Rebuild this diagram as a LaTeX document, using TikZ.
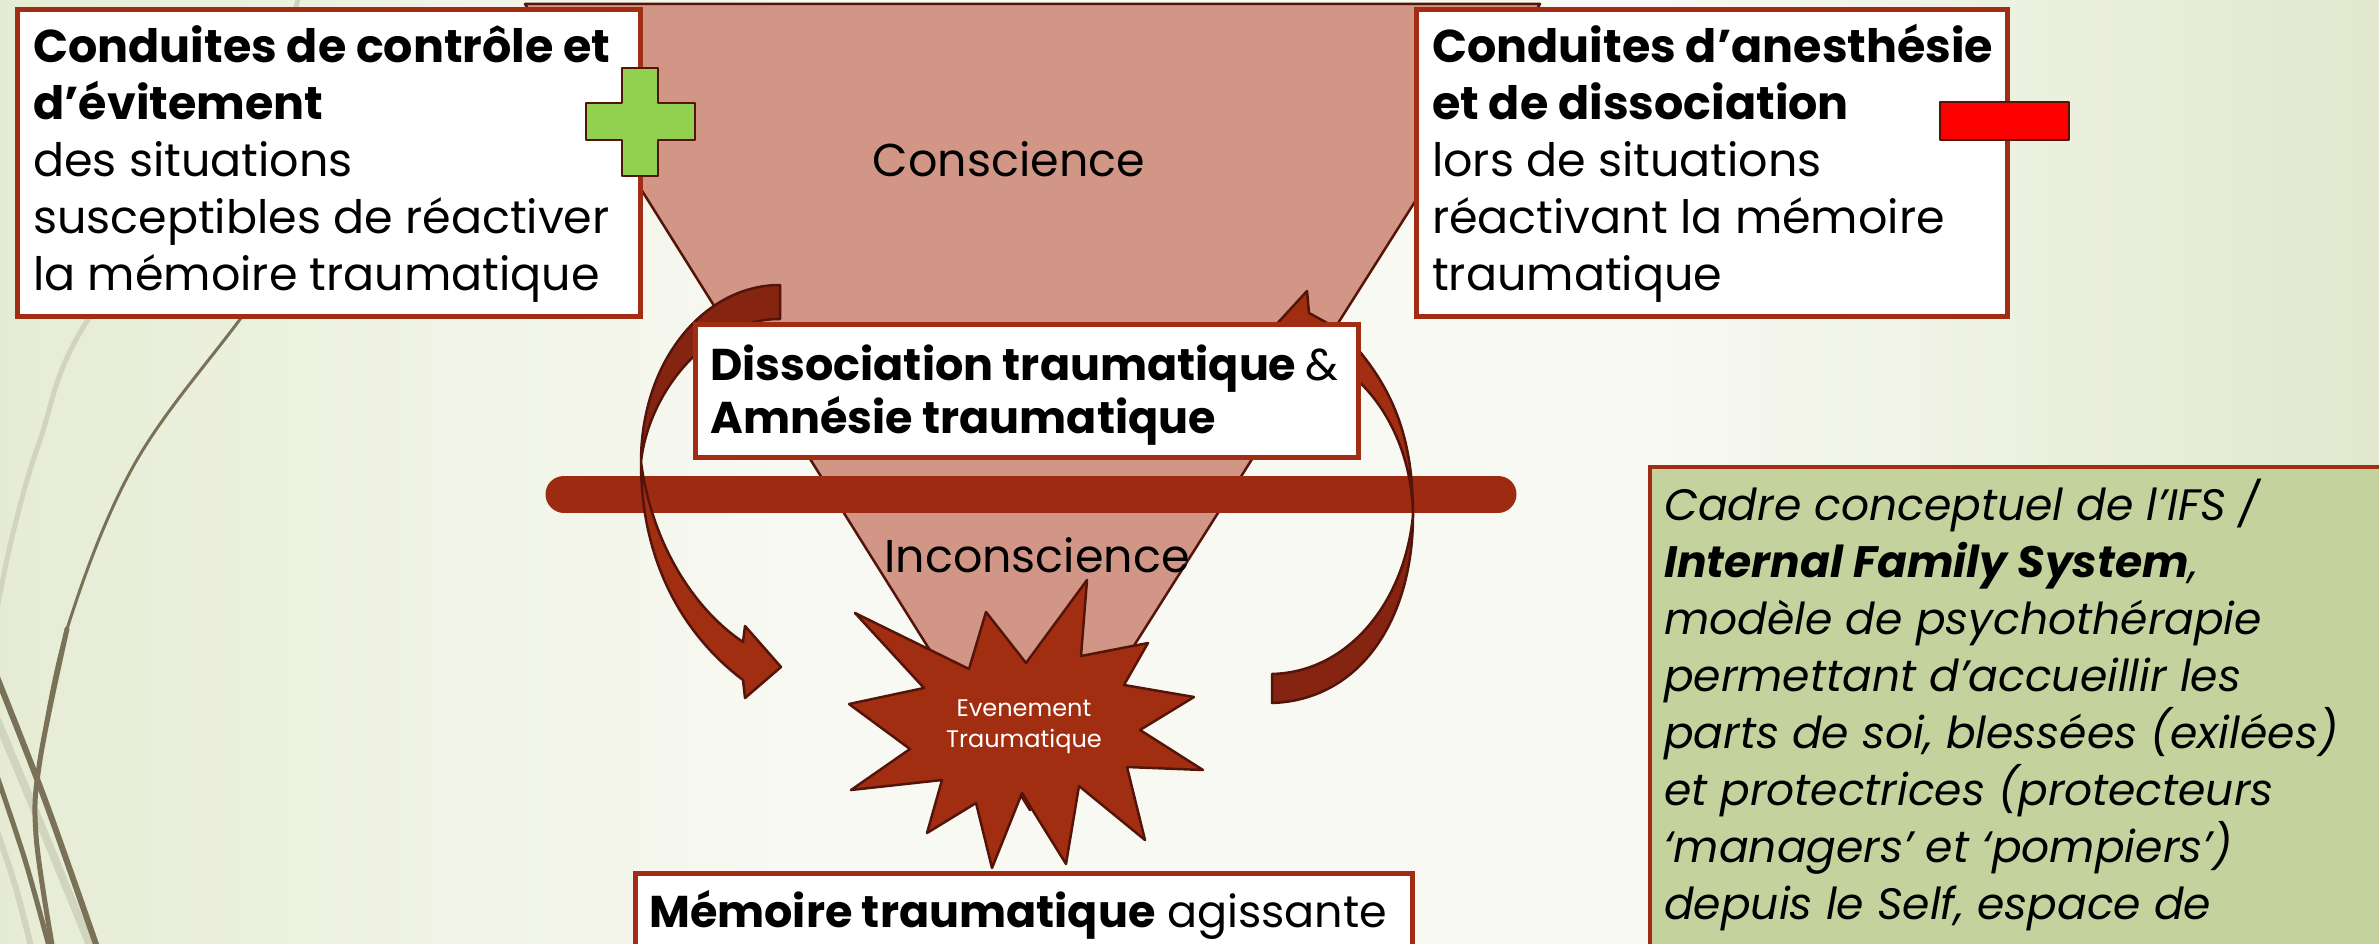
\documentclass[tikz,border=0pt]{standalone}
\usepackage{fontspec}
\setmainfont{Poppins}
\definecolor{bgl}{RGB}{230,236,212}
\definecolor{bgm}{RGB}{248,249,243}
\definecolor{bgr}{RGB}{225,232,205}
\definecolor{decodark}{RGB}{122,113,88}
\definecolor{decolight}{RGB}{210,213,190}
\definecolor{boxred}{RGB}{160,45,20}
\definecolor{darkline}{RGB}{85,20,10}
\definecolor{funnelfill}{RGB}{209,150,134}
\definecolor{barred}{RGB}{157,43,17}
\definecolor{arrowlight}{RGB}{162,46,18}
\definecolor{arrowdark}{RGB}{133,36,16}
\definecolor{plusgreen}{RGB}{146,208,80}
\definecolor{minusred}{RGB}{255,0,0}
\definecolor{ifsgreen}{RGB}{196,211,158}
\newcommand\bodyfont{\fontsize{46}{57}\selectfont}
\tikzset{
  box/.style={draw=boxred, line width=5, fill=white, anchor=north west, inner sep=0pt},
  txt/.style={anchor=base west, inner sep=0pt, text=black},
  label/.style={anchor=base, inner sep=0pt, text=black, font=\fontsize{46}{50}\selectfont},
  outline/.style={draw=darkline, line width=2.5, line join=round},
  deco/.style={line cap=round}
}
\begin{document}
\begin{tikzpicture}[x=1pt, y=-1pt]
\useasboundingbox (0,0) rectangle (2379,944);
% background: pale centre, greener towards both sides
\fill[bgm] (0,0) rectangle (2379,944);
\shade[left color=bgl, right color=bgm] (0,0) rectangle (800,944);
\shade[left color=bgm, right color=bgr] (1650,0) rectangle (2379,944);

% decorative curves on the left
\draw[deco, decolight, line width=5] plot[smooth, tension=0.6] coordinates {(300,-10) (250,120) (89,318) (40,440) (13,533) (-5,620)};
\draw[deco, decolight, line width=8] plot[smooth] coordinates {(-5,715) (45,835) (92,950)};
\draw[deco, decolight, line width=6] plot[smooth] coordinates {(-5,825) (15,885) (32,950)};
\draw[deco, decodark, line width=3] plot[smooth, tension=0.6] coordinates {(330,200) (241,318) (134,465) (67,629) (40,760)};
\draw[deco, decodark, line width=5] plot[smooth, tension=0.6] coordinates {(67,629) (40,760) (36,835) (53,950)};
\draw[deco, decodark, line width=6] plot[smooth] coordinates {(-5,672) (45,800) (98,950)};
\draw[deco, decodark, line width=5] plot[smooth] coordinates {(-5,770) (25,860) (50,950)};

% funnel
\fill[funnelfill] (525,4) -- (1540,4) -- (1030,810) -- cycle;
\draw[outline] (525,4) -- (1540,4) -- (1030,810) -- cycle;
\node[label] (conscience) at (1009,177) {Conscience};

% separating bar
\coordinate (barl) at (564,494);
\coordinate (barr) at (1498,494);
\draw[barred, line width=37, line cap=round] (barl) -- (barr);

% left curved arrow
\filldraw[fill=arrowdark, outline] (780,285) .. controls (705,285) and (641,360) .. (641,462)
   .. controls (648,395) and (705,319) .. (780,319) -- cycle;
\filldraw[fill=arrowlight, outline] (641,462) .. controls (641,570) and (690,640) .. (743,680)
   -- (745,698) -- (781,667) -- (745,626) -- (743,642)
   .. controls (695,610) and (652,545) .. (641,462) -- cycle;

% right curved arrow
\filldraw[fill=arrowdark, outline] (1272,703) .. controls (1360,700) and (1413,620) .. (1413,515)
   .. controls (1405,600) and (1350,672) .. (1272,674) -- cycle;
\filldraw[fill=arrowlight, outline] (1413,515) .. controls (1413,440) and (1395,385) .. (1340,330)
   -- (1309,313) -- (1307,291) -- (1262,340) -- (1290,345)
   .. controls (1370,362) and (1412,440) .. (1413,515) -- cycle;

\node[label] (inconscience) at (1037,572) {Inconscience};

% traumatic event
\filldraw[fill=arrowlight, outline]
  (855,613) -- (969,669) -- (986,612) -- (1026,663) -- (1087,580) -- (1081,656)
  -- (1148,643) -- (1124,685) -- (1194,697) -- (1140,730) -- (1203,770) -- (1127,767)
  -- (1145,840) -- (1079,786) -- (1066,864) -- (1022,793) -- (992,868) -- (976,803)
  -- (927,833) -- (942,780) -- (851,790) -- (910,749) -- (849,704) -- (924,688) -- cycle;
\node[inner sep=0pt, align=center, text=white, font=\fontsize{24}{31}\selectfont] (event) at (1024,727) {Evenement\\Traumatique};

% boxes
\node[box, minimum width=623, minimum height=306] (ctrl) at (14.5,7.5) {};
\node[txt] (ctrltext) at (33,63) {\vtop{\bodyfont
  \hbox{\bfseries Conduites de contrôle et}
  \hbox{\bfseries d’évitement}
  \hbox{des situations}
  \hbox{susceptibles de réactiver}
  \hbox{la mémoire traumatique}}};
\draw[fill=plusgreen, outline] (622,68) -- (658,68) -- (658,103) -- (695,103) -- (695,140) -- (658,140)
  -- (658,176) -- (622,176) -- (622,140) -- (586,140) -- (586,103) -- (622,103) -- cycle;

\node[box, minimum width=591, minimum height=306] (anest) at (1413.5,7.5) {};
\node[txt] (anesttext) at (1432,63) {\vtop{\bodyfont
  \hbox{\bfseries Conduites d’anesthésie}
  \hbox{\bfseries et de dissociation}
  \hbox{lors de situations}
  \hbox{réactivant la mémoire}
  \hbox{traumatique}}};
\draw[fill=minusred, outline] (1940,102) rectangle (2069,140);

\node[box, minimum width=663, minimum height=133] (dissoc) at (692.5,321.5) {};
\node[txt] (dissoctext) at (710,380) {\vtop{\fontsize{44.5}{53}\selectfont
  \hbox{\bfseries Dissociation traumatique \mdseries\&}
  \hbox{\bfseries Amnésie traumatique}}};

\node[box, minimum width=777, minimum height=120] (memoire) at (632.5,870.5) {};
\node[txt] (memoiretext) at (649,927) {\fontsize{44.5}{57}\selectfont\textbf{Mémoire traumatique} agissante};

\node[box, fill=ifsgreen, line width=4, minimum width=800, minimum height=520] (ifs) at (1648,465) {};
\node[txt] (ifstext) at (1664,520) {\vtop{\fontsize{44}{57}\selectfont\itshape
  \hbox{Cadre conceptuel de l’IFS /}
  \hbox{\bfseries Internal Family System\mdseries,}
  \hbox{modèle de psychothérapie}
  \hbox{permettant d’accueillir les}
  \hbox{parts de soi, blessées (exilées)}
  \hbox{et protectrices (protecteurs}
  \hbox{‘managers’ et ‘pompiers’)}
  \hbox{depuis le Self, espace de}}};
\end{tikzpicture}
\end{document}
